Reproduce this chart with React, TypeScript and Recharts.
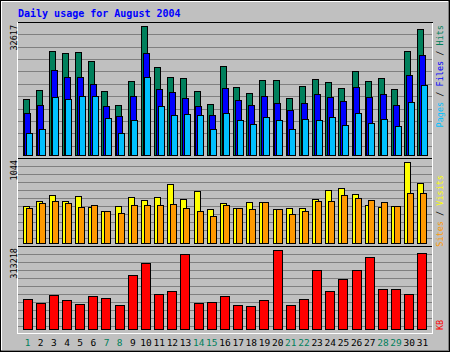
import { Bar, BarChart, CartesianGrid, XAxis, YAxis } from 'recharts'

const days = [
  '1', '2', '3', '4', '5', '6', '7', '8', '9', '10', '11', '12', '13', '14', '15', '16',
  '17', '18', '19', '20', '21', '22', '23', '24', '25', '26', '27', '28', '29', '30', '31',
]
const weekendDays = ['1', '7', '8', '14', '15', '21', '22', '28', '29']

const hits = [
  13919, 16183, 26245, 25742, 25994, 23730, 15932, 12410, 18699, 32617, 22220, 19705, 19453,
  15932, 12661, 22472, 17105, 15428, 18950, 18950, 14171, 17441, 19202, 18447, 16938, 21214,
  18699, 19453, 16435, 26245, 31779,
]
const files = [
  10565, 12410, 21466, 19705, 19705, 17944, 12326, 9643, 14674, 25742, 16686, 15680, 14171,
  12158, 9894, 16938, 13668, 12410, 14674, 12913, 11152, 12913, 15177, 14422, 13416, 17189,
  14422, 15177, 12410, 20208, 25239,
]
const pages = [
  5534, 6540, 14422, 13919, 14674, 14841, 9307, 5534, 8720, 19705, 12158, 9894, 10146, 9894,
  6373, 10481, 8720, 7798, 9391, 8637, 6373, 8888, 8637, 9391, 7379, 10397, 7882, 8888, 7127,
  13164, 17692,
]
const visits = [
  477, 546, 623, 537, 610, 468, 417, 481, 597, 558, 597, 765, 571, 674, 442, 520, 451, 533, 533,
  442, 455, 455, 571, 687, 713, 636, 494, 468, 481, 1044, 778,
]
const sites = [
  451, 520, 546, 520, 468, 494, 417, 391, 494, 494, 494, 507, 455, 417, 352, 494, 451, 442, 533,
  442, 378, 417, 546, 546, 623, 584, 558, 533, 481, 649, 649,
]
const kbytes = [
  117945, 103530, 133671, 114014, 98288, 129740, 121877, 94356, 212301, 263411, 137603, 149397,
  298794, 102219, 106151, 129740, 94356, 90425, 114014, 313218, 94356, 117945, 231959, 149397,
  196575, 231959, 286990, 157260, 157260, 137603, 302726,
]

const W = 450
const H = 352
const FONT = '"DejaVu Sans Mono", monospace'
const GREY = '#C0C0C0'
const DKGREY = '#808080'
const GREEN = '#00805C'
const BLUE = '#0000FF'
const CYAN = '#00C0FF'
const YELLOW = '#FFFF00'
const ORANGE = '#FF9900'
const RED = '#FF0000'

const data = days.map((day, i) => ({
  day,
  hits: hits[i],
  files: files[i],
  pages: pages[i],
  visits: visits[i],
  sites: sites[i],
  kbytes: kbytes[i],
}))

const maxHits = Math.max(...hits)
const maxVisits = Math.max(...visits)
const maxKb = Math.max(...kbytes)

const xPad = { left: 4, right: 3 }
const topGrid = Array.from({ length: 10 }, (_, k) => Math.round(34.4 + k * 12.36) + 0.5)
const midGrid = Array.from({ length: 10 }, (_, k) => 166.5 + k * 8)
const botGrid = Array.from({ length: 10 }, (_, k) => 254.5 + k * 8)

// eslint-disable-next-line @typescript-eslint/no-explicit-any
function DayTick(props: any) {
  const { x, y, payload } = props
  const weekend = weekendDays.includes(payload.value)
  return (
    <text
      x={x}
      y={y + 16.5}
      textAnchor="middle"
      style={{ fontFamily: FONT, fontSize: 9.5, fill: weekend ? GREEN : '#000' }}
    >
      {payload.value}
    </text>
  )
}

const layer: React.CSSProperties = { position: 'absolute', left: 0, top: 0 }

export default function App() {
  return (
    <div style={{ position: 'relative', width: W, height: H, background: GREY, shapeRendering: 'crispEdges' }}>
      <style>{'body{margin:0}'}</style>

      {/* hits / files / pages */}
      <div style={layer}>
        <BarChart
          width={W}
          height={H}
          data={data}
          margin={{ top: 26, right: 18, bottom: 197, left: 17 }}
          barSize={6}
          barGap={-4.25}
        >
          <CartesianGrid vertical={false} horizontalPoints={topGrid} stroke={DKGREY} />
          <XAxis dataKey="day" hide padding={xPad} />
          <YAxis type="number" domain={[0, maxHits]} hide />
          <Bar dataKey="hits" fill={GREEN} stroke="#000" strokeWidth={1} isAnimationActive={false} />
          <Bar dataKey="files" fill={BLUE} stroke="#000" strokeWidth={1} isAnimationActive={false} />
          <Bar dataKey="pages" fill={CYAN} stroke="#000" strokeWidth={1} isAnimationActive={false} />
        </BarChart>
      </div>

      {/* visits / sites */}
      <div style={layer}>
        <BarChart
          width={W}
          height={H}
          data={data}
          margin={{ top: 162.5, right: 18, bottom: 108.5, left: 17 }}
          barSize={6}
          barGap={-3}
        >
          <CartesianGrid vertical={false} horizontalPoints={midGrid} stroke={DKGREY} />
          <XAxis dataKey="day" hide padding={xPad} />
          <YAxis type="number" domain={[0, maxVisits]} hide />
          <Bar dataKey="visits" fill={YELLOW} stroke="#000" strokeWidth={1} isAnimationActive={false} />
          <Bar dataKey="sites" fill={ORANGE} stroke="#000" strokeWidth={1} isAnimationActive={false} />
        </BarChart>
      </div>

      {/* kbytes */}
      <div style={layer}>
        <BarChart
          width={W}
          height={H}
          data={data}
          margin={{ top: 250.5, right: 18, bottom: 2.5, left: 17 }}
          barSize={9}
        >
          <CartesianGrid vertical={false} horizontalPoints={botGrid} stroke={DKGREY} />
          <XAxis
            dataKey="day"
            padding={xPad}
            height={20}
            axisLine={false}
            tickLine={false}
            tickSize={0}
            tickMargin={0}
            interval={0}
            tick={<DayTick />}
          />
          <YAxis type="number" domain={[0, maxKb]} hide />
          <Bar dataKey="kbytes" fill={RED} stroke="#000" strokeWidth={1} isAnimationActive={false} />
        </BarChart>
      </div>

      {/* frame and labels */}
      <svg width={W} height={H} style={{ ...layer, pointerEvents: 'none' }}>
        <rect x={0.5} y={0.5} width={W - 1} height={H - 1} fill="none" stroke="#000" />
        <line x1={1} y1={1.5} x2={W - 2} y2={1.5} stroke="#fff" />
        <line x1={1.5} y1={1} x2={1.5} y2={H - 2} stroke="#fff" />
        <line x1={W - 1.5} y1={1} x2={W - 1.5} y2={H - 1} stroke={DKGREY} />
        <line x1={1} y1={H - 1.5} x2={W - 1} y2={H - 1.5} stroke={DKGREY} />

        <line x1={17} y1={22.5} x2={433} y2={22.5} stroke="#000" />
        <line x1={17.5} y1={22} x2={17.5} y2={334} stroke="#fff" />
        <line x1={432.5} y1={23} x2={432.5} y2={334} stroke="#fff" />
        <line x1={17} y1={333.5} x2={433} y2={333.5} stroke="#fff" />
        <line x1={18} y1={158.5} x2={432} y2={158.5} stroke="#000" />
        <line x1={18} y1={246.5} x2={432} y2={246.5} stroke="#000" />

        <text x={18} y={17} style={{ fontFamily: FONT, fontSize: 10, fontWeight: 'bold', fill: BLUE }}>
          Daily usage for August 2004
        </text>

        <g style={{ fontFamily: FONT, fontSize: 8.5, fill: '#000' }}>
          <text transform="translate(16.5,25) rotate(-90)" textAnchor="end">{maxHits}</text>
          <text transform="translate(16.5,160) rotate(-90)" textAnchor="end">{maxVisits}</text>
          <text transform="translate(16.5,248) rotate(-90)" textAnchor="end">{maxKb}</text>
        </g>

        <g style={{ fontFamily: FONT, fontSize: 8.5 }}>
          <text transform="translate(443,25) rotate(-90)" textAnchor="end">
            <tspan fill={CYAN}>Pages</tspan>
            <tspan fill="#000"> / </tspan>
            <tspan fill={BLUE}>Files</tspan>
            <tspan fill="#000"> / </tspan>
            <tspan fill={GREEN}>Hits</tspan>
          </text>
          <text transform="translate(443,175) rotate(-90)" textAnchor="end">
            <tspan fill={ORANGE}>Sites</tspan>
            <tspan fill="#000"> / </tspan>
            <tspan fill={YELLOW}>Visits</tspan>
          </text>
          <text transform="translate(443,330) rotate(-90)" textAnchor="start" fill={RED}>
            KB
          </text>
        </g>
      </svg>
    </div>
  )
}
